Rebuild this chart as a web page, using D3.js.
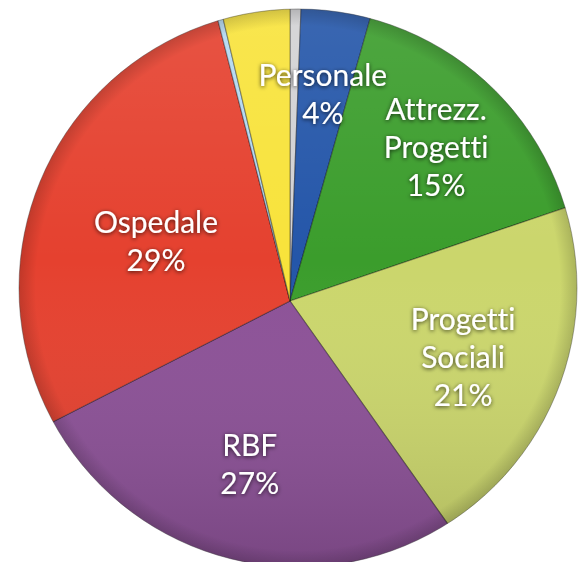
<!DOCTYPE html>
<html>
<head>
<meta charset="utf-8">
<script src="https://cdn.jsdelivr.net/npm/d3@7"></script>
<style>
  body { margin: 0; background: #fff; }
  #wrapper { width: 579px; height: 562px; }
</style>
</head>
<body>
<div id="wrapper"></div>
<script>
// slices clockwise from 12 o'clock
const categories = ["", "Personale", "Attrezz. Progetti", "Progetti Sociali", "RBF", "Ospedale", "", ""]
const values = [0.6, 3.8, 15.4, 20.4, 27.3, 28.5, 0.3, 3.7]
const labelLines = [
  null,
  ["Personale", "4%"],
  ["Attrezz.", "Progetti", "15%"],
  ["Progetti", "Sociali", "21%"],
  ["RBF", "27%"],
  ["Ospedale", "29%"],
  null,
  null,
]
const colors = ["#d2d2d4", "#2456a9", "#3b9d2c", "#cbd66c", "#8c5197", "#e5412f", "#b3d8f1", "#f8e33b"]

function drawPie() {
  const dms = { width: 579, height: 562 }

  // apex of the tilted pie and its outline
  const apex = { x: 290, y: 301 }
  const rim = { cx: 298, cy: 288, r: 279 }

  const svg = d3.select("#wrapper")
    .append("svg")
    .attr("width", dms.width)
    .attr("height", dms.height)

  const defs = svg.append("defs")

  defs.append("clipPath")
    .attr("id", "rim")
    .append("circle")
    .attr("cx", rim.cx)
    .attr("cy", rim.cy)
    .attr("r", rim.r)

  const shade = defs.append("linearGradient")
    .attr("id", "shade")
    .attr("x1", 0).attr("y1", 0)
    .attr("x2", 0).attr("y2", 1)
  shade.append("stop").attr("offset", "0%").attr("stop-color", "#fff").attr("stop-opacity", 0.1)
  shade.append("stop").attr("offset", "45%").attr("stop-color", "#fff").attr("stop-opacity", 0)
  shade.append("stop").attr("offset", "100%").attr("stop-color", "#000").attr("stop-opacity", 0.14)

  const edge = defs.append("radialGradient")
    .attr("id", "edge")
    .attr("cx", "50%").attr("cy", "50%").attr("r", "50%")
  edge.append("stop").attr("offset", "94%").attr("stop-color", "#000").attr("stop-opacity", 0)
  edge.append("stop").attr("offset", "100%").attr("stop-color", "#000").attr("stop-opacity", 0.16)

  const glow = defs.append("filter")
    .attr("id", "glow")
    .attr("x", "-20%").attr("y", "-40%")
    .attr("width", "140%").attr("height", "180%")
  glow.append("feDropShadow")
    .attr("dx", 0).attr("dy", 1)
    .attr("stdDeviation", 2.2)
    .attr("flood-color", "#000")
    .attr("flood-opacity", 0.75)

  const pie = d3.pie()
    .sort(null)
    .value(d => d)

  const arcs = pie(values)

  const arc = d3.arc()
    .innerRadius(0)
    .outerRadius(380)

  const bounds = svg.append("g")
    .attr("clip-path", "url(#rim)")

  bounds.append("g")
    .attr("transform", `translate(${apex.x},${apex.y})`)
    .selectAll("path")
    .data(arcs)
    .join("path")
    .attr("d", arc)
    .attr("fill", (d, i) => colors[i])
    .attr("stroke", "rgba(0,0,0,0.35)")
    .attr("stroke-width", 1.2)
    .attr("stroke-linejoin", "round")

  bounds.append("rect")
    .attr("x", rim.cx - rim.r)
    .attr("y", rim.cy - rim.r)
    .attr("width", rim.r * 2)
    .attr("height", rim.r * 2)
    .attr("fill", "url(#shade)")

  bounds.append("circle")
    .attr("cx", rim.cx)
    .attr("cy", rim.cy)
    .attr("r", rim.r)
    .attr("fill", "url(#edge)")

  svg.append("circle")
    .attr("cx", rim.cx)
    .attr("cy", rim.cy)
    .attr("r", rim.r)
    .attr("fill", "none")
    .attr("stroke", "rgba(60,60,60,0.55)")
    .attr("stroke-width", 0.8)

  // labels sit on the slice bisector, each at its own distance from the apex
  const labelRadius = [0, 210, 212, 182, 168, 147, 0, 0]
  const lineHeight = 38

  const labels = svg.append("g")
    .attr("transform", `translate(${apex.x},${apex.y})`)
    .selectAll("text")
    .data(arcs.filter((d, i) => labelLines[i]))
    .join("text")
    .attr("transform", d => {
      const r = labelRadius[d.index]
      const c = d3.arc().innerRadius(r).outerRadius(r).centroid(d)
      return `translate(${c[0]},${c[1]})`
    })
    .attr("text-anchor", "middle")
    .attr("fill", "#fff")
    .attr("font-family", "Lato, 'Open Sans', sans-serif")
    .attr("font-size", "30px")
    .style("font-variant-ligatures", "none")
    .style("font-feature-settings", "'liga' 0")
    .attr("filter", "url(#glow)")

  labels.selectAll("tspan")
    .data(d => labelLines[d.index].map((t, j, a) => ({ t, j, n: a.length })))
    .join("tspan")
    .attr("x", 0)
    .attr("y", d => (d.j - (d.n - 1) / 2) * lineHeight + 11)
    .text(d => d.t)
}

drawPie()
</script>
</body>
</html>
